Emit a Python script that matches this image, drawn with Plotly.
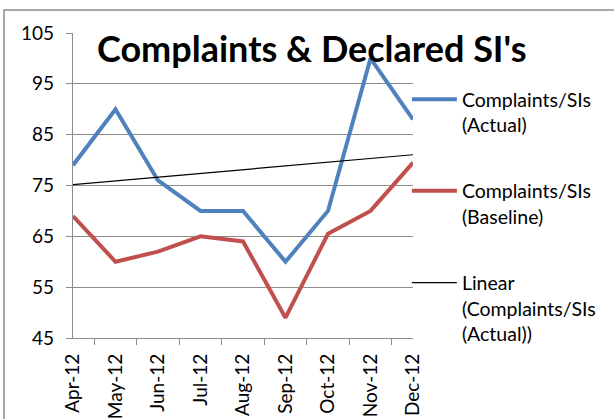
import numpy as np
import plotly.graph_objects as go

months = ["Apr-12", "May-12", "Jun-12", "Jul-12", "Aug-12", "Sep-12", "Oct-12", "Nov-12", "Dec-12"]
actual = [79, 90, 76, 70, 70, 60, 70, 100, 88]
baseline = [69, 60, 62, 65, 64, 49, 65.5, 70, 79.5]
y_ticks = [45, 55, 65, 75, 85, 95, 105]

idx = np.arange(1, len(actual) + 1)
slope, intercept = np.polyfit(idx, actual, 1)
trend = list(slope * idx + intercept)

FONT = "Lato"
GRID = "#8c8c8c"

fig = go.Figure()
fig.add_trace(go.Scatter(x=months, y=actual, mode="lines",
                         name="Complaints/SIs<br>(Actual)", legendgroup="a",
                         line=dict(color="#4F81BD", width=4)))
fig.add_trace(go.Scatter(x=months, y=baseline, mode="lines",
                         name="Complaints/SIs<br>(Baseline)", legendgroup="b",
                         line=dict(color="#C0504D", width=4)))
fig.add_trace(go.Scatter(x=months, y=trend, mode="lines",
                         name="Linear<br>(Complaints/SIs<br>(Actual))", legendgroup="c",
                         line=dict(color="#000000", width=1.2)))

fig.update_layout(
    width=614, height=419,
    margin=dict(l=73, r=201, t=33, b=81, autoexpand=False),
    paper_bgcolor="white", plot_bgcolor="white",
    font=dict(family=FONT, size=19, color="#000000"),
    showlegend=True,
    legend=dict(x=0.982, y=0.846, xanchor="left", yanchor="top",
                font=dict(family=FONT, size=19.5), itemwidth=45,
                tracegroupgap=38, valign="top", bgcolor="rgba(0,0,0,0)",
                traceorder="grouped"),
    xaxis=dict(type="category", showgrid=False, showline=True, linecolor=GRID, linewidth=1.2,
               ticks="outside", tickson="boundaries", ticklen=6, tickcolor=GRID,
               tickangle=-90, tickfont=dict(family=FONT, size=19), fixedrange=True,
               ticklabelstandoff=7, automargin=False),
    yaxis=dict(range=[45, 105], tickvals=y_ticks, showgrid=True, gridcolor=GRID, gridwidth=1.2,
               zeroline=False, showline=True, linecolor=GRID, linewidth=1.2,
               ticks="outside", ticklen=6, tickcolor=GRID, ticklabelstandoff=8,
               tickfont=dict(family=FONT, size=19), fixedrange=True, automargin=False),
    annotations=[dict(text="<b>Complaints &amp; Declared SI's</b>", xref="paper", yref="paper",
                      x=0.703, y=(338 - 48) / 305, xanchor="center", yanchor="middle",
                      showarrow=False, font=dict(family=FONT, size=36, color="#000000"))],
    shapes=[dict(type="rect", xref="paper", yref="paper",
                 x0=(4 - 73) / 340, x1=(640 - 73) / 340,
                 y0=(338 - 440) / 305, y1=(338 - 10) / 305,
                 line=dict(color="#8c8c8c", width=1.5), fillcolor="rgba(0,0,0,0)",
                 layer="below")],
)

fig.write_html("out.html", config={"displayModeBar": False},
               post_script="document.body.style.margin='0';document.body.style.padding='0';")
